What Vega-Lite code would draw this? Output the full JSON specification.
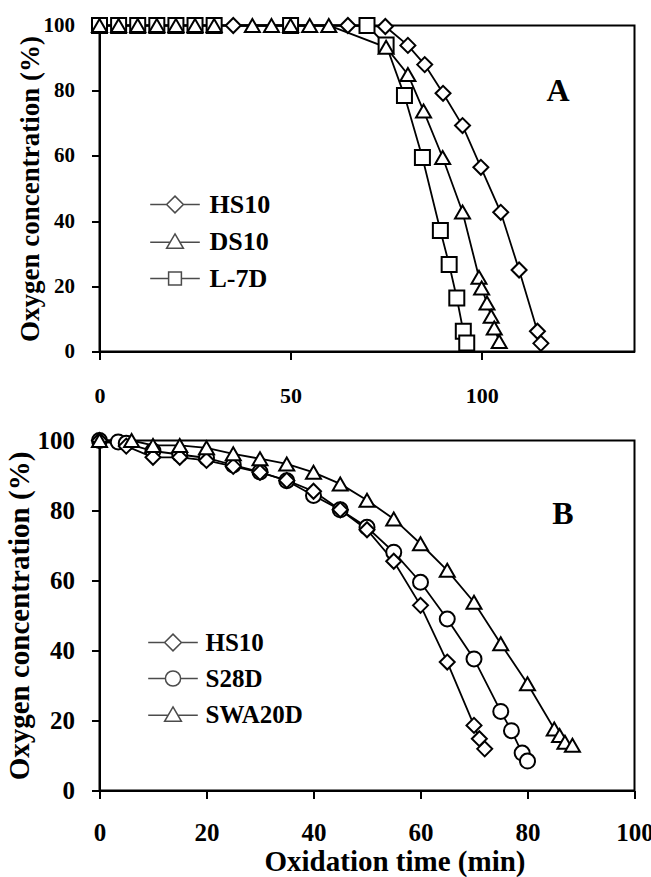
{
  "$schema": "https://vega.github.io/schema/vega-lite/v6.json",
  "autosize": {"type": "pad"},
  "padding": {"left": 3.5, "top": 12.5, "right": 0, "bottom": 0},
  "bounds": "flush",
  "spacing": 89,
  "background": "white",
  "config": {
    "font": "Liberation Serif",
    "view": {"stroke": "black", "strokeWidth": 2},
    "axis": {
      "domainColor": "black", "domainWidth": 2, "tickColor": "black", "tickWidth": 2, "tickSize": 8,
      "grid": false, "labelFont": "Liberation Serif", "labelFontWeight": "bold", "labelColor": "black",
      "titleFont": "Liberation Serif", "titleFontWeight": "bold", "titleColor": "black", "labelFlush": false
    },
    "legend": {
      "labelFont": "Liberation Serif", "labelFontWeight": "bold", "labelColor": "black", "padding": 0,
      "symbolOffset": 0, "symbolStrokeColor": "black", "symbolFillColor": "white", "symbolStrokeWidth": 1.5,
      "symbolSize": 256, "title": null
    }
  },
  "datasets": {
    "a": [
      {"t": 0, "c": 100, "series": "L-7D"}, {"t": 5, "c": 100, "series": "L-7D"}, {"t": 10, "c": 100, "series": "L-7D"},
      {"t": 15, "c": 100, "series": "L-7D"}, {"t": 20, "c": 100, "series": "L-7D"}, {"t": 25, "c": 100, "series": "L-7D"},
      {"t": 30, "c": 100, "series": "L-7D"}, {"t": 50, "c": 100, "series": "L-7D"}, {"t": 70, "c": 100, "series": "L-7D"},
      {"t": 75, "c": 94, "series": "L-7D"}, {"t": 79.8, "c": 78.5, "series": "L-7D"}, {"t": 84.5, "c": 59.5, "series": "L-7D"},
      {"t": 89.2, "c": 37.1, "series": "L-7D"}, {"t": 91.5, "c": 26.7, "series": "L-7D"}, {"t": 93.5, "c": 16.4, "series": "L-7D"},
      {"t": 95.2, "c": 6.2, "series": "L-7D"}, {"t": 96.1, "c": 2.6, "series": "L-7D"},
      {"t": 0, "c": 100, "series": "DS10"}, {"t": 5, "c": 100, "series": "DS10"}, {"t": 10, "c": 100, "series": "DS10"},
      {"t": 15, "c": 100, "series": "DS10"}, {"t": 20, "c": 100, "series": "DS10"}, {"t": 25, "c": 100, "series": "DS10"},
      {"t": 30, "c": 100, "series": "DS10"}, {"t": 40, "c": 100, "series": "DS10"}, {"t": 45, "c": 100, "series": "DS10"},
      {"t": 50, "c": 100, "series": "DS10"}, {"t": 55, "c": 100, "series": "DS10"}, {"t": 60, "c": 100, "series": "DS10"},
      {"t": 75, "c": 93.3, "series": "DS10"}, {"t": 80.7, "c": 85, "series": "DS10"}, {"t": 84.8, "c": 73.8, "series": "DS10"},
      {"t": 89.8, "c": 59.5, "series": "DS10"}, {"t": 95, "c": 42.8, "series": "DS10"}, {"t": 99.3, "c": 22.8, "series": "DS10"},
      {"t": 100, "c": 19.5, "series": "DS10"}, {"t": 101.4, "c": 14.9, "series": "DS10"}, {"t": 102.5, "c": 10.8, "series": "DS10"},
      {"t": 103.3, "c": 7.2, "series": "DS10"}, {"t": 104.6, "c": 3.1, "series": "DS10"},
      {"t": 35, "c": 100, "series": "HS10"}, {"t": 65, "c": 100, "series": "HS10"}, {"t": 74.8, "c": 99.7, "series": "HS10"},
      {"t": 80.7, "c": 93.9, "series": "HS10"}, {"t": 85.1, "c": 88, "series": "HS10"}, {"t": 89.9, "c": 79.2, "series": "HS10"},
      {"t": 95, "c": 69.3, "series": "HS10"}, {"t": 99.8, "c": 56.5, "series": "HS10"}, {"t": 105, "c": 42.7, "series": "HS10"},
      {"t": 109.8, "c": 25, "series": "HS10"}, {"t": 114.6, "c": 6.2, "series": "HS10"}, {"t": 115.5, "c": 2.5, "series": "HS10"}
    ],
    "b": [
      {"t": 0, "c": 100, "series": "S28D"}, {"t": 3.5, "c": 99.6, "series": "S28D"}, {"t": 5, "c": 99.2, "series": "S28D"},
      {"t": 10, "c": 97, "series": "S28D"}, {"t": 15, "c": 96, "series": "S28D"}, {"t": 20, "c": 95, "series": "S28D"},
      {"t": 25, "c": 93, "series": "S28D"}, {"t": 30, "c": 91, "series": "S28D"}, {"t": 35, "c": 88.5, "series": "S28D"},
      {"t": 40, "c": 84.3, "series": "S28D"}, {"t": 45, "c": 80.2, "series": "S28D"}, {"t": 50, "c": 75.2, "series": "S28D"},
      {"t": 55, "c": 68.1, "series": "S28D"}, {"t": 60, "c": 59.5, "series": "S28D"}, {"t": 65, "c": 49, "series": "S28D"},
      {"t": 70, "c": 37.6, "series": "S28D"}, {"t": 75, "c": 22.6, "series": "S28D"}, {"t": 77, "c": 17.1, "series": "S28D"},
      {"t": 79, "c": 10.7, "series": "S28D"}, {"t": 80, "c": 8.4, "series": "S28D"},
      {"t": 0, "c": 100, "series": "HS10"}, {"t": 5, "c": 98.4, "series": "HS10"}, {"t": 10, "c": 95.2, "series": "HS10"},
      {"t": 15, "c": 95.2, "series": "HS10"}, {"t": 20, "c": 94.3, "series": "HS10"}, {"t": 25, "c": 92.6, "series": "HS10"},
      {"t": 30, "c": 90.9, "series": "HS10"}, {"t": 35, "c": 88.6, "series": "HS10"}, {"t": 40, "c": 85.5, "series": "HS10"},
      {"t": 45, "c": 80.2, "series": "HS10"}, {"t": 50, "c": 74.5, "series": "HS10"}, {"t": 55, "c": 65.5, "series": "HS10"},
      {"t": 60, "c": 52.9, "series": "HS10"}, {"t": 65, "c": 36.7, "series": "HS10"}, {"t": 70, "c": 18.6, "series": "HS10"},
      {"t": 71, "c": 14.8, "series": "HS10"}, {"t": 72, "c": 11.9, "series": "HS10"},
      {"t": 0, "c": 100, "series": "SWA20D"}, {"t": 6, "c": 100, "series": "SWA20D"}, {"t": 10, "c": 98.6, "series": "SWA20D"},
      {"t": 15, "c": 98.6, "series": "SWA20D"}, {"t": 20, "c": 97.9, "series": "SWA20D"}, {"t": 25, "c": 96.2, "series": "SWA20D"},
      {"t": 30, "c": 94.8, "series": "SWA20D"}, {"t": 35, "c": 93.3, "series": "SWA20D"}, {"t": 40, "c": 90.9, "series": "SWA20D"},
      {"t": 45, "c": 87.6, "series": "SWA20D"}, {"t": 50, "c": 82.9, "series": "SWA20D"}, {"t": 55, "c": 77.6, "series": "SWA20D"},
      {"t": 60, "c": 70.5, "series": "SWA20D"}, {"t": 65, "c": 62.9, "series": "SWA20D"}, {"t": 70, "c": 53.8, "series": "SWA20D"},
      {"t": 75, "c": 41.9, "series": "SWA20D"}, {"t": 80, "c": 30.5, "series": "SWA20D"}, {"t": 85, "c": 17.6, "series": "SWA20D"},
      {"t": 86, "c": 15.7, "series": "SWA20D"}, {"t": 87, "c": 13.8, "series": "SWA20D"}, {"t": 88.4, "c": 12.9, "series": "SWA20D"}
    ]
  },
  "resolve": {
    "scale": {"shape": "independent", "x": "independent", "y": "independent"},
    "legend": {"shape": "independent"}
  },
  "vconcat": [
    {
      "width": 535,
      "height": 326,
      "data": {"name": "a"},
      "title": {
        "text": "A", "anchor": "end", "frame": "group", "orient": "top", "offset": 0, "baseline": "alphabetic",
        "dx": -65, "dy": 119, "fontSize": 32, "font": "Liberation Serif", "fontWeight": "bold", "color": "black"
      },
      "encoding": {
        "x": {
          "field": "t", "type": "quantitative", "scale": {"domain": [0, 140], "nice": false},
          "axis": {"values": [0, 50, 100], "title": null, "labelFontSize": 22, "labelPadding": 26}
        },
        "y": {
          "field": "c", "type": "quantitative", "scale": {"domain": [0, 100], "nice": false},
          "axis": {
            "values": [0, 20, 40, 60, 80, 100], "title": "Oxygen concentration (%)", "labelFontSize": 21,
            "labelPadding": 17, "titleFontSize": 27, "titlePadding": -1
          }
        }
      },
      "layer": [
        {
          "mark": {"type": "line", "color": "black", "strokeWidth": 1.8},
          "encoding": {"detail": {"field": "series", "type": "nominal"}}
        },
        {
          "mark": {"type": "point", "fill": "white", "stroke": "black", "strokeWidth": 2, "size": 225, "opacity": 1, "fillOpacity": 1},
          "encoding": {
            "shape": {
              "field": "series", "type": "nominal",
              "scale": {"domain": ["HS10", "DS10", "L-7D"], "range": ["diamond", "triangle-up", "square"]},
              "legend": null
            }
          }
        },
        {
          "transform": [{"filter": "false"}],
          "mark": {"type": "point", "filled": false, "stroke": "black", "strokeWidth": 1.5},
          "encoding": {
            "shape": {
              "field": "series", "type": "nominal",
              "scale": {
                "domain": ["HS10", "DS10", "L-7D"],
                "range": [
                  "M-3.1,0L-1.05,0M1.05,0L3.1,0M0,-1.05L1.05,0L0,1.05L-1.05,0Z",
                  "M-3.1,0.1L-0.55,0.1M0.55,0.1L3.1,0.1M0,-0.95L1.05,0.85L-1.05,0.85Z",
                  "M-3.1,0L-0.8,0M0.8,0L3.1,0M-0.8,-0.8L0.8,-0.8L0.8,0.8L-0.8,0.8Z"
                ]
              },
              "legend": {
                "orient": "none", "legendX": 62.5, "legendY": 166, "labelFontSize": 26,
                "labelOffset": 21.5, "rowPadding": 11
              }
            }
          }
        }
      ],
      "resolve": {"scale": {"shape": "independent"}, "legend": {"shape": "independent"}}
    },
    {
      "width": 535,
      "height": 350,
      "data": {"name": "b"},
      "title": {
        "text": "B", "anchor": "end", "frame": "group", "orient": "top", "offset": 0, "baseline": "alphabetic",
        "dx": -61, "dy": 127, "fontSize": 32, "font": "Liberation Serif", "fontWeight": "bold", "color": "black"
      },
      "encoding": {
        "x": {
          "field": "t", "type": "quantitative", "scale": {"domain": [0, 100], "nice": false},
          "axis": {
            "values": [0, 20, 40, 60, 80, 100], "title": "Oxidation time (min)", "labelFontSize": 25,
            "labelPadding": 22, "titleFontSize": 29, "titlePadding": 2, "titleX": 295
          }
        },
        "y": {
          "field": "c", "type": "quantitative", "scale": {"domain": [0, 100], "nice": false},
          "axis": {
            "values": [0, 20, 40, 60, 80, 100], "title": "Oxygen concentration (%)", "labelFontSize": 25,
            "labelPadding": 17, "titleFontSize": 29, "titlePadding": 3
          }
        }
      },
      "layer": [
        {
          "mark": {"type": "line", "color": "black", "strokeWidth": 1.8},
          "encoding": {"detail": {"field": "series", "type": "nominal"}}
        },
        {
          "mark": {"type": "point", "fill": "white", "stroke": "black", "strokeWidth": 2, "size": 225, "opacity": 1, "fillOpacity": 1},
          "encoding": {
            "shape": {
              "field": "series", "type": "nominal",
              "scale": {"domain": ["HS10", "S28D", "SWA20D"], "range": ["diamond", "circle", "triangle-up"]},
              "legend": null
            }
          }
        },
        {
          "transform": [{"filter": "false"}],
          "mark": {"type": "point", "filled": false, "stroke": "black", "strokeWidth": 1.5},
          "encoding": {
            "shape": {
              "field": "series", "type": "nominal",
              "scale": {
                "domain": ["HS10", "S28D", "SWA20D"],
                "range": [
                  "M-3.1,0L-1.05,0M1.05,0L3.1,0M0,-1.05L1.05,0L0,1.05L-1.05,0Z",
                  "M-3.1,0L-0.95,0M0.95,0L3.1,0M-0.95,0A0.95,0.95,0,1,0,0.95,0A0.95,0.95,0,1,0,-0.95,0Z",
                  "M-3.1,0.1L-0.55,0.1M0.55,0.1L3.1,0.1M0,-0.95L1.05,0.85L-1.05,0.85Z"
                ]
              },
              "legend": {
                "orient": "none", "legendX": 61, "legendY": 189.5, "labelFontSize": 25,
                "labelOffset": 20, "rowPadding": 10
              }
            }
          }
        }
      ],
      "resolve": {"scale": {"shape": "independent"}, "legend": {"shape": "independent"}}
    }
  ]
}
